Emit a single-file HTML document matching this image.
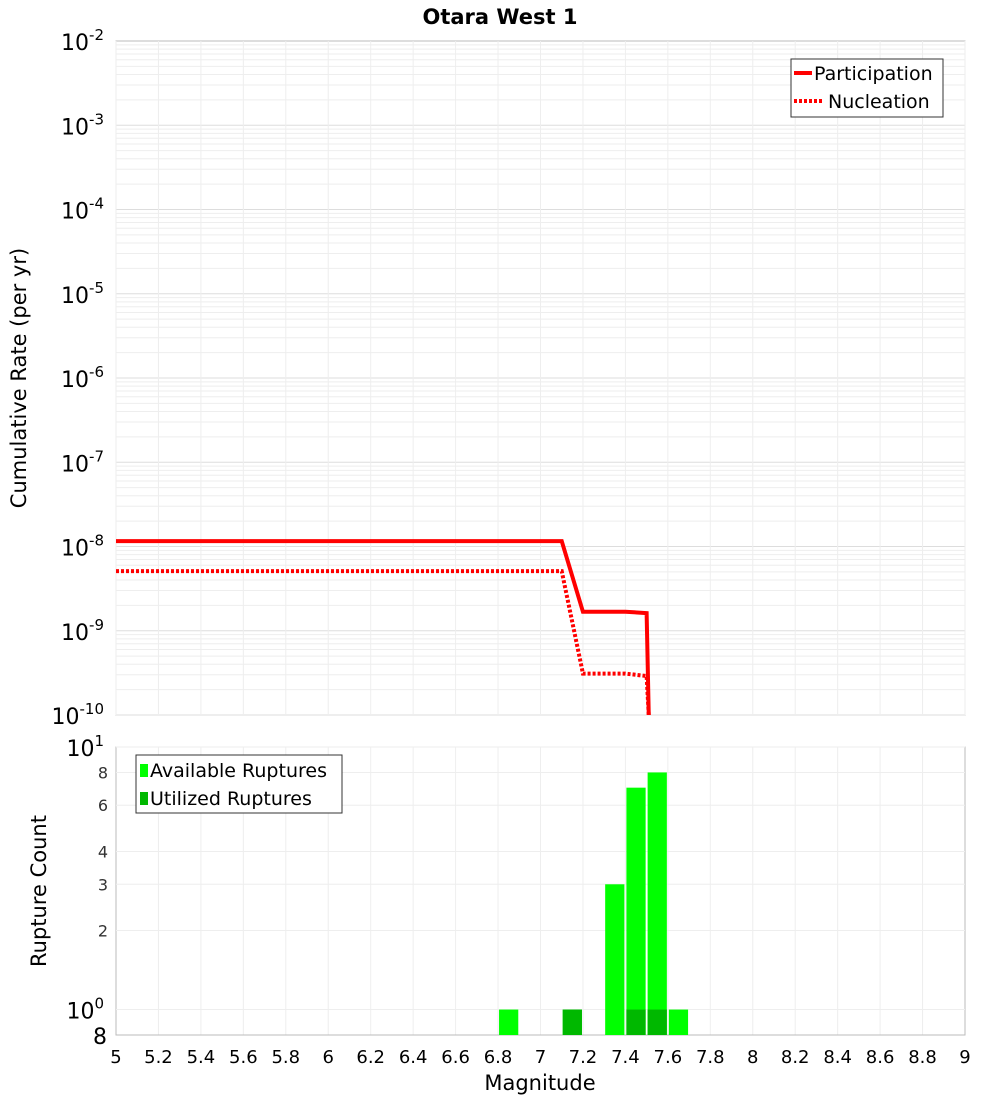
<!DOCTYPE html>
<html><head><meta charset="utf-8"><style>
body{margin:0;background:#fff;font-family:"Liberation Sans","DejaVu Sans",sans-serif}
</style></head><body>
<svg id="chart" width="1000" height="1100" xmlns="http://www.w3.org/2000/svg" font-family="DejaVu Sans, Liberation Sans, sans-serif">
<text x="500" y="24" text-anchor="middle" font-size="21" font-weight="bold">Otara West 1</text>
<g id="topplot"></g><g id="botplot"></g>
<text transform="translate(26,378) rotate(-90)" text-anchor="middle" font-size="21">Cumulative Rate (per yr)</text>
<text transform="translate(46,891) rotate(-90)" text-anchor="middle" font-size="21">Rupture Count</text>
<text x="540" y="1090" text-anchor="middle" font-size="21">Magnitude</text>
</svg>
<script>
const partMag=[5,7.1,7.2,7.4,7.5,7.51];
const partRate=[1.16e-8,1.16e-8,1.68e-9,1.68e-9,1.62e-9,5e-11];
const nuclMag=[5,7.1,7.2,7.4,7.5,7.51];
const nuclRate=[5.1e-9,5.1e-9,3.1e-10,3.1e-10,2.9e-10,5e-11];
const binMag=[6.85,7.15,7.35,7.45,7.55,7.65];
const availCount=[1,1,3,7,8,1];
const usedCount=[0,1,0,1,1,0];
const xTicks=[5,5.2,5.4,5.6,5.8,6,6.2,6.4,6.6,6.8,7,7.2,7.4,7.6,7.8,8,8.2,8.4,8.6,8.8,9];
const topExps=[-2,-3,-4,-5,-6,-7,-8,-9,-10];
const botTicks=[8,6,4,3,2];

const NS="http://www.w3.org/2000/svg";
const X0=116,X1=965;
const x=m=>X0+(m-5)/4*(X1-X0);
const TY0=41,TY1=715;
const yT=v=>TY0+(-2-Math.log10(v))/8*(TY1-TY0);
const BY0=747,BY1=1035,LMIN=Math.log10(0.8);
const yB=v=>BY0+(1-Math.log10(v))/(1-LMIN)*(BY1-BY0);
function el(p,t,a){const e=document.createElementNS(NS,t);for(const k in a)e.setAttribute(k,a[k]);p.appendChild(e);return e;}
const gTop=document.getElementById('topplot'),gBot=document.getElementById('botplot');
el(gTop,'rect',{x:X0,y:TY0,width:X1-X0,height:TY1-TY0,fill:'#fff',stroke:'#bbb'});
for(let e=-10;e<-2;e++)for(let k=1;k<10;k++){const v=k*Math.pow(10,e);const g=el(gTop,'line',{x1:X0,x2:X1,y1:yT(v),y2:yT(v),stroke:k==1?'#ddd':'#eee','stroke-width':1});

}
xTicks.forEach(m=>{el(gTop,'line',{x1:x(m),x2:x(m),y1:TY0,y2:TY1,stroke:'#eee'});el(gBot,'line',{x1:x(m),x2:x(m),y1:BY0,y2:BY1,stroke:'#eee'});});
topExps.forEach(e=>{const t=el(gTop,'text',{x:104,y:yT(Math.pow(10,e))+9,'text-anchor':'end','font-size':22});


t.innerHTML='10<tspan dy="-10" font-size="15">'+e+'</tspan>';});
function line(mags,rates,dash,name){const p=el(gTop,'polyline',{points:mags.map((m,i)=>x(m)+','+Math.min(yT(rates[i]),TY1)).join(' '),fill:'none',stroke:'#f00','stroke-width':4,'stroke-dasharray':dash});

}
line(partMag,partRate,'none','participation-line');line(nuclMag,nuclRate,'3,2','nucleation-line');
const lg=el(gTop,'g',{});


el(lg,'rect',{x:791,y:59,width:152,height:58,fill:'#fff',stroke:'#333'});
el(lg,'line',{x1:794,x2:812,y1:73,y2:73,stroke:'#f00','stroke-width':4});
el(lg,'line',{x1:794,x2:824,y1:101,y2:101,stroke:'#f00','stroke-width':4,'stroke-dasharray':'3,2'});
el(lg,'text',{x:814,y:80,'font-size':19}).textContent='Participation';
el(lg,'text',{x:828,y:108,'font-size':19}).textContent='Nucleation';
el(gBot,'rect',{x:X0,y:BY0,width:X1-X0,height:BY1-BY0,fill:'none',stroke:'#bbb'});
[10,8,6,4,3,2,1].forEach(v=>el(gBot,'line',{x1:X0,x2:X1,y1:yB(v),y2:yB(v),stroke:'#eee'}));
binMag.forEach((m,i)=>{const r=el(gBot,'rect',{x:x(m-0.05)+1,y:yB(availCount[i]),width:x(0.1+5)-X0-2,height:BY1-yB(availCount[i]),fill:'#00ff00'});


if(usedCount[i]>0){const u=el(gBot,'rect',{x:x(m-0.05)+1,y:yB(usedCount[i]),width:x(0.1+5)-X0-2,height:BY1-yB(usedCount[i]),fill:'#00b800'});

}});
botTicks.forEach(v=>{const t=el(gBot,'text',{x:108,y:yB(v)+6,'text-anchor':'end','font-size':16,fill:'#333'});t.textContent=v;});
let tt=el(gBot,'text',{x:104,y:BY0+9,'text-anchor':'end','font-size':22});tt.innerHTML='10<tspan dy="-10" font-size="15">1</tspan>';
tt=el(gBot,'text',{x:104,y:yB(1)+9,'text-anchor':'end','font-size':22});tt.innerHTML='10<tspan dy="-10" font-size="15">0</tspan>';
tt=el(gBot,'text',{x:107,y:BY1+9,'text-anchor':'end','font-size':22});tt.textContent='8';
xTicks.forEach(m=>{const k=el(gBot,'text',{x:x(m),y:1063,'text-anchor':'middle','font-size':18});k.textContent=m;

});
const lb=el(gBot,'g',{});


el(lb,'rect',{x:136,y:755,width:206,height:58,fill:'#fff',stroke:'#333'});
el(lb,'rect',{x:140,y:764,width:8,height:13,fill:'#00ff00'});
el(lb,'rect',{x:140,y:792,width:8,height:13,fill:'#00b800'});
el(lb,'text',{x:150,y:777,'font-size':19}).textContent='Available Ruptures';
el(lb,'text',{x:150,y:805,'font-size':19}).textContent='Utilized Ruptures';
</script>
</body></html>
